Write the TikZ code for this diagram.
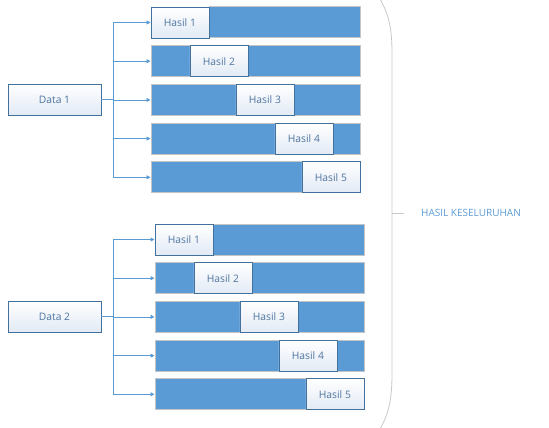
\documentclass[tikz,border=0pt]{standalone}
\usepackage{fontspec}
\setmainfont{Open Sans}
\usetikzlibrary{arrows.meta,positioning}
\definecolor{barblue}{HTML}{5B9BD5}
\definecolor{edgeblue}{HTML}{41719C}
\definecolor{textblue}{HTML}{4E74A0}
\definecolor{paleblue}{HTML}{E2EAF5}
\definecolor{bargray}{HTML}{C4C4C4}
\definecolor{bracegray}{HTML}{C8C8C8}

\begin{document}
\begin{tikzpicture}[
    x=1pt, y=-1pt,
    node distance=6.7pt,
    bar/.style={rectangle, draw=bargray, fill=barblue, line width=1pt, minimum width=209pt, minimum height=31pt, inner sep=0pt},
    hasilbox/.style={rectangle, draw=edgeblue, line width=0.8pt, top color=white, bottom color=paleblue, minimum width=58pt, minimum height=31pt, inner sep=0pt, font=\fontsize{10.3}{12}\selectfont, text=textblue},
    databox/.style={hasilbox, minimum width=93pt},
    line/.style={draw=barblue, line width=0.8pt},
    arrow/.style={line, -{Triangle[length=4pt,width=4pt]}},
    brace/.style={draw=bracegray, line width=0.8pt},
    total/.style={font=\fontsize{10}{12}\selectfont, text=barblue, anchor=west, inner sep=0pt}
]
\useasboundingbox (0,0) rectangle (549,428);

% two groups: data box, five bars with a moving result box
\foreach \g/\bx/\by/\dy in {1/255.5/22.5/99.5, 2/259.5/239.5/316.5} {
    \node[databox] (d\g) at (54.5,\dy) {Data \g};
    \node[bar] (b\g-1) at (\bx,\by) {};
    \node[bar, below=of b\g-1] (b\g-2) {};
    \node[bar, below=of b\g-2] (b\g-3) {};
    \node[bar, below=of b\g-3] (b\g-4) {};
    \node[bar, below=of b\g-4] (b\g-5) {};
    \foreach \i/\off in {1/0, 2/39, 3/85, 4/124, 5/151}
        \node[hasilbox, anchor=west] (h\g-\i) at ([xshift=\off pt]b\g-\i.west) {Hasil \i};
    \coordinate (t\g) at (113,\dy);
    \draw[line] (d\g.east) -- (t\g);
    \draw[line] (t\g |- b\g-1) -- (t\g |- b\g-5);
    \foreach \i in {1,...,5}
        \draw[arrow] (t\g |- b\g-\i) -- (b\g-\i.west);
}

% brace round both groups
\draw[brace] (380,-1) .. controls (391,18) and (392,35) .. (392,55) -- (392,372) .. controls (392,392) and (391,410) .. (380,429);
\coordinate (tick) at (404,213);
\draw[brace] (392,213) -- (tick);
\node[total] (all) at (421,213) {HASIL KESELURUHAN};
\end{tikzpicture}
\end{document}
